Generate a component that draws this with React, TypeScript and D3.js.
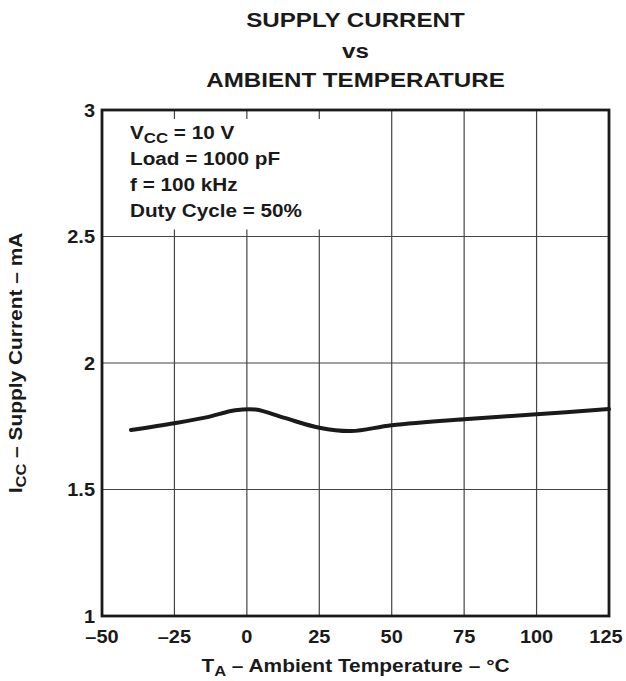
import React from "react";
import * as d3 from "d3";

const temps = [-40, -25, -14, -4, 3, 13, 25, 36, 50, 75, 100, 125];
const current = [1.735, 1.762, 1.785, 1.813, 1.816, 1.783, 1.744, 1.731, 1.754, 1.778, 1.797, 1.818];
const xTicks = [-50, -25, 0, 25, 50, 75, 100, 125];
const yTicks = [1, 1.5, 2, 2.5, 3];
const yTickLabels = ["1", "1.5", "2", "2.5", "3"];
const titleLines = ["SUPPLY CURRENT", "vs", "AMBIENT TEMPERATURE"];
const FONT = "'Liberation Sans', Arial, Helvetica, sans-serif";

function Txt({ x, y, size, anchor = "start", rotate = 0, sx = 1.1, children }: any) {
  return (
    <text
      transform={`translate(${x},${y}) rotate(${rotate}) scale(${sx},1)`}
      fontSize={size}
      fontWeight="bold"
      fontFamily={FONT}
      textAnchor={anchor}
      fill="#1a1a1a"
    >
      {children}
    </text>
  );
}

export default function App() {
  const x = d3.scaleLinear().domain([-50, 125]).range([102, 609]);
  const y = d3.scaleLinear().domain([1, 3]).range([616, 110]);
  const line = d3
    .line<number>()
    .x((_, i) => x(temps[i]))
    .y((d) => y(d))
    .curve(d3.curveCatmullRom.alpha(0.5));

  const x0 = x(-50), x1 = x(125), yTop = y(3), yBot = y(1);
  const cx = (x0 + x1) / 2;
  const cy = (yTop + yBot) / 2;

  return (
    <svg width={626} height={681} style={{ position: "absolute", left: 0, top: 0, background: "#fff" }}>
      {/* title */}
      <Txt x={cx} y={27} size={21} anchor="middle" sx={1.15}>{titleLines[0]}</Txt>
      <Txt x={cx} y={58} size={21} anchor="middle" sx={1.15}>{titleLines[1]}</Txt>
      <Txt x={cx} y={87} size={21} anchor="middle" sx={1.15}>{titleLines[2]}</Txt>

      {/* grid */}
      {xTicks.slice(1, -1).map((t) => (
        <line key={"gx" + t} x1={x(t)} x2={x(t)} y1={yTop} y2={yBot} stroke="#444" strokeWidth={1.2} />
      ))}
      {yTicks.slice(1, -1).map((t) => (
        <line key={"gy" + t} x1={x0} x2={x1} y1={y(t)} y2={y(t)} stroke="#444" strokeWidth={1.2} />
      ))}

      {/* annotation box */}
      <rect x={x0 + 1} y={yTop + 9} width={x(25) - x0 + 4} height={y(2.5) - yTop - 16} fill="#fff" />
      <Txt x={130} y={139} size={18.5} sx={1.12}>
        V<tspan fontSize={15} dy={4}>CC</tspan>
        <tspan dy={-4}> = 10 V</tspan>
      </Txt>
      <Txt x={130} y={165} size={18.5} sx={1.12}>Load = 1000 pF</Txt>
      <Txt x={130} y={191} size={18.5} sx={1.12}>f = 100 kHz</Txt>
      <Txt x={130} y={217} size={18.5} sx={1.12}>Duty Cycle = 50%</Txt>

      {/* curve */}
      <path d={line(current) || ""} fill="none" stroke="#1a1a1a" strokeWidth={4} strokeLinejoin="round" strokeLinecap="round" />

      {/* frame */}
      <rect x={x0} y={yTop} width={x1 - x0} height={yBot - yTop} fill="none" stroke="#1a1a1a" strokeWidth={2.8} />

      {/* tick labels */}
      {xTicks.map((t) => (
        <Txt key={"xl" + t} x={t === 125 ? x(t) - 3 : x(t)} y={643} size={18.5} anchor="middle" sx={1.08}>
          {t < 0 ? "\u2013" + Math.abs(t) : String(t)}
        </Txt>
      ))}
      {yTicks.map((t, i) => (
        <Txt key={"yl" + t} x={95} y={y(t) + 6.5} size={18.5} anchor="end" sx={1.08}>
          {yTickLabels[i]}
        </Txt>
      ))}

      {/* axis titles */}
      <Txt x={cx} y={672} size={19} anchor="middle" sx={1.1}>
        T<tspan fontSize={15} dy={4}>A</tspan>
        <tspan dy={-4}> – Ambient Temperature – °C</tspan>
      </Txt>
      <Txt x={22} y={cy} size={19} anchor="middle" rotate={-90} sx={1.1}>
        I<tspan fontSize={15} dy={4}>CC</tspan>
        <tspan dy={-4}> – Supply Current – mA</tspan>
      </Txt>
    </svg>
  );
}
